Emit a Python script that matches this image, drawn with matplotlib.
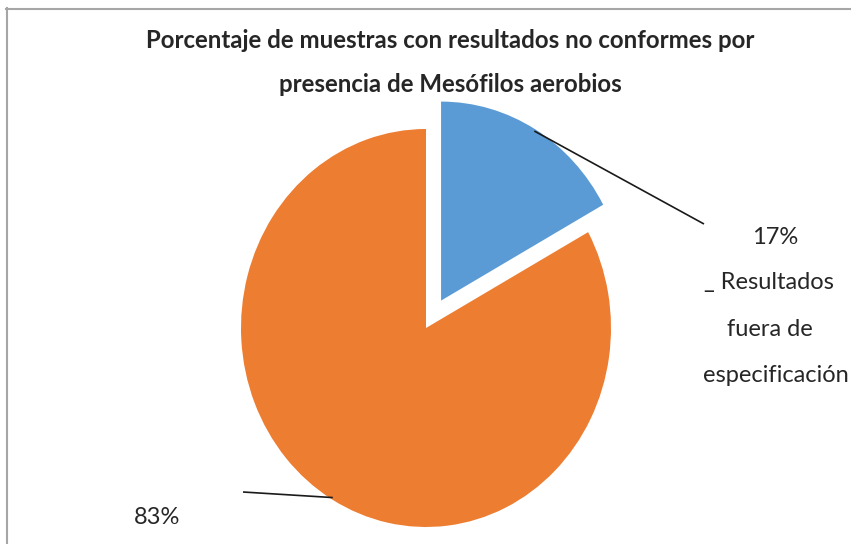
import numpy as np
import matplotlib
matplotlib.use("Agg")
import matplotlib.pyplot as plt
from matplotlib.lines import Line2D

# ---- data ----
categories = ["Resultados fuera de especificación", "Resultados conformes"]
values = [17, 83]
pct_labels = ["17%", "83%"]
side_label_lines = ["17%", "_ Resultados", "fuera de", "especificación"]
colors = ["#5B9BD5", "#ED7D31"]
title_lines = ["Porcentaje de muestras con resultados no conformes por",
               "presencia de Mesófilos aerobios"]

W, H = 851, 544
fig = plt.figure(figsize=(W / 100, H / 100), dpi=100)

# pixel geometry of the pie (center, radii)
cx, cy = 426, 328
rx, ry = 185, 199

ax = fig.add_axes([0, 0, 1, 1])
wedges, _ = ax.pie(values, colors=colors, startangle=90, counterclock=False,
                   explode=[0.16, 0], radius=1.0, center=(0, 0),
                   wedgeprops=dict(linewidth=0))
ax.set_aspect("auto")
ax.set_xlim((0 - cx) / rx, (W - cx) / rx)
ax.set_ylim((cy - H) / ry, cy / ry)
ax.axis("off")

font = "Lato"
txtcol = "#262626"

def px(x, y):
    return ((x - cx) / rx, (cy - y) / ry)

# leader lines from wedge mid-angles
ends = [px(704, 224), px(243, 492)]
for w, end in zip(wedges, ends):
    mid = np.deg2rad((w.theta1 + w.theta2) / 2)
    c = w.center
    start = (c[0] + 0.99 * np.cos(mid), c[1] + 0.99 * np.sin(mid))
    ax.plot([start[0], end[0]], [start[1], end[1]], color="#1a1a1a", lw=1.2,
            solid_capstyle="butt")

# right label (multi-line)
ys = [238, 283, 330, 376]
xs = [775, 769, 770, 776]
for t, x, y in zip(side_label_lines, xs, ys):
    ax.text(*px(x, y), t, ha="center", va="center", fontsize=17,
            family=font, color=txtcol)
ax.text(*px(157, 517), pct_labels[1], ha="center", va="center", fontsize=17,
        family=font, color=txtcol)

# title
for t, y in zip(title_lines, [40, 85]):
    fig.text(450 / W, 1 - y / H, t, ha="center", va="center", fontsize=17.3,
             fontweight="bold", family=font, color=txtcol)

# border
bc = "#a6a6a6"
fig.add_artist(Line2D([6.5 / W, 6.5 / W], [0, 1 - 8 / H], color=bc, lw=1.5,
                      transform=fig.transFigure))
fig.add_artist(Line2D([6 / W, 1], [1 - 8.5 / H, 1 - 8.5 / H], color=bc, lw=1.5,
                      transform=fig.transFigure))

fig.savefig("out.png", dpi=100)
